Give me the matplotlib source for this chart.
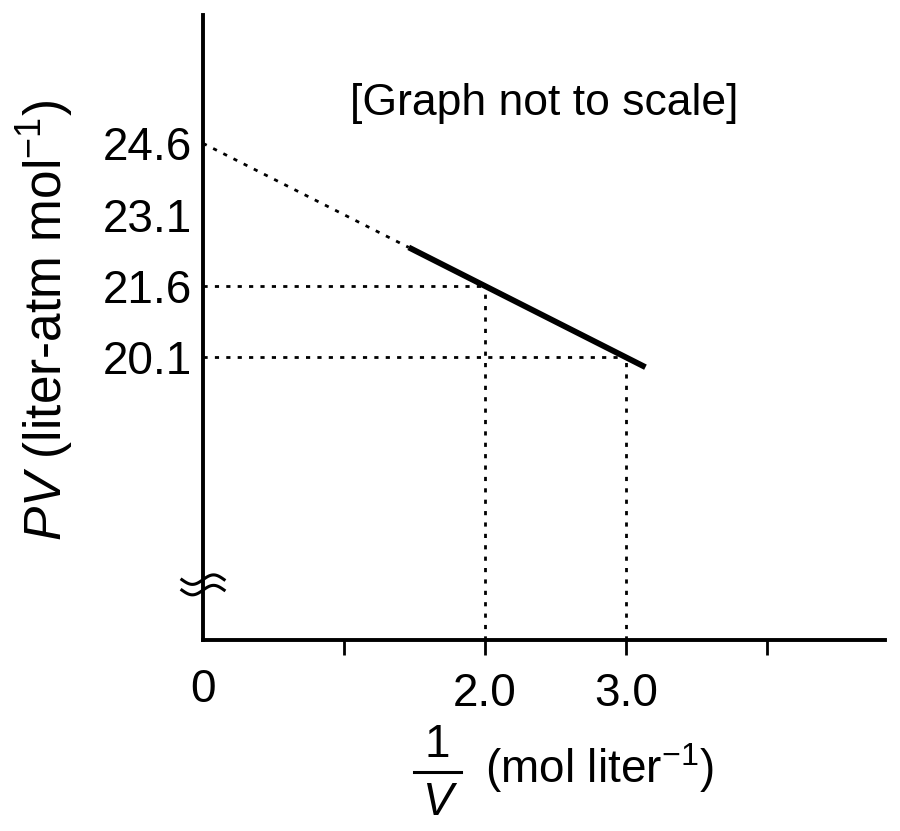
import numpy as np
import matplotlib
matplotlib.use("Agg")
import matplotlib.pyplot as plt

plt.rcParams['font.family'] = ['Liberation Sans', 'DejaVu Sans']
plt.rcParams['mathtext.fontset'] = 'custom'
plt.rcParams['mathtext.it'] = 'Liberation Sans:italic'
plt.rcParams['mathtext.rm'] = 'Liberation Sans'

# data
y_ticks = [20.1, 21.6, 23.1, 24.6]
x_ticks = [1.0, 2.0, 3.0, 4.0]
x_tick_labels = ['', '2.0', '3.0', '']
intercept = 24.6
slope = -1.5
x_solid = [1.46, 3.14]
x_marks = [2.0, 3.0]
y_marks = [21.6, 20.1]

x_lo, x_hi = 0, 4.84
y_lo, y_hi = 14.15, 27.3

dots = (0, (1.5, 2.6))

fig = plt.figure(figsize=(9, 8.31), dpi=100)
ax = fig.add_axes([203/900, (831-640)/831, (885-203)/900, (640-15)/831])

line = lambda x: intercept + slope * np.asarray(x)

# extrapolated part
ax.plot([0, x_solid[0]], line([0, x_solid[0]]), color='black', lw=2.0,
        linestyle=dots, clip_on=False)
# measured part
ax.plot(x_solid, line(x_solid), color='black', lw=4.2, solid_capstyle='butt')

for xm, ym in zip(x_marks, y_marks):
    ax.plot([0, xm], [ym, ym], color='black', lw=2.0, linestyle=dots)
    ax.plot([xm, xm], [y_lo, ym], color='black', lw=2.0, linestyle=dots)

# axis break mark
t = np.linspace(-0.15, 0.15, 40)
for yb in [15.42, 15.2]:
    ax.plot(t, yb + 0.1 * np.sin(t / 0.15 * np.pi), color='black', lw=2.2,
            clip_on=False)

ax.set_xlim(x_lo, x_hi)
ax.set_ylim(y_lo, y_hi)
for s in ['top', 'right']:
    ax.spines[s].set_visible(False)
for s in ['left', 'bottom']:
    ax.spines[s].set_linewidth(2.8)

ax.set_xticks(x_ticks)
ax.set_xticklabels(x_tick_labels)
ax.set_yticks(y_ticks)
ax.set_yticklabels([f'{v:.1f}' for v in y_ticks])
ax.tick_params(axis='x', direction='out', length=11, width=2, labelsize=33, pad=12)
ax.tick_params(axis='y', length=0, labelsize=33, pad=8)

# the "0" below the origin
fig.text(203/900, 1 - 690/831, '0', ha='center', va='center', fontsize=33)

ax.text(0.50, 0.859, '[Graph not to scale]', transform=ax.transAxes,
        ha='center', va='center', fontsize=32)

# y label
fig.text(45/900, 1 - 320/831, r'$PV$ (liter-atm mol$^{-1}$)', rotation=90,
         ha='center', va='center', fontsize=37)

# x label as a stacked fraction
fig.text(437/900, 1 - 745/831, '1', ha='center', va='center', fontsize=33)
fig.add_artist(plt.Line2D([414/900, 461/900], [1 - 772/831, 1 - 772/831],
                          color='black', lw=2.2))
fig.text(437/900, 1 - 803/831, 'V', ha='center', va='center', fontsize=33,
         style='italic')
fig.text(485/900, 1 - 768/831, r'(mol liter$^{-1}$)', ha='left', va='center',
         fontsize=33)

fig.savefig('out.png', dpi=100)
